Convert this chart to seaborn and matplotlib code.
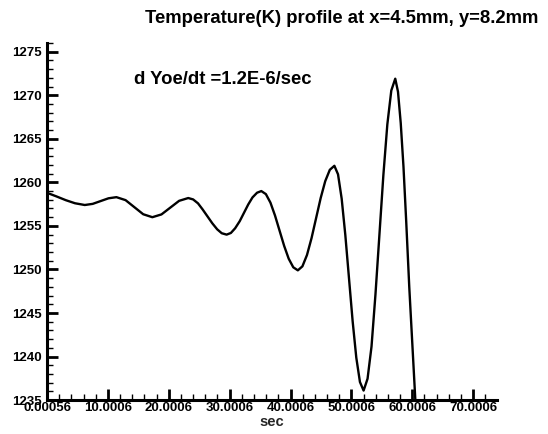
import matplotlib
matplotlib.use("Agg")
import matplotlib.pyplot as plt
from matplotlib.ticker import MultipleLocator
import pandas as pd
import seaborn as sns

# Time (sec axis units) and temperature (K) samples along the curve
time = [
    0.0, 1.5, 3.1, 4.6, 6.2,
    7.5, 8.8, 10.1, 11.4,
    12.9, 14.35, 15.8, 17.3,
    18.8, 20.25, 21.7, 23.2,
    24.0, 24.8, 25.55, 26.35, 27.15, 27.95, 28.7, 29.5,
    30.2, 30.9, 31.65, 32.35, 33.05, 33.75, 34.5, 35.2,
    35.95, 36.7, 37.45, 38.2, 38.95, 39.7, 40.45, 41.2,
    41.95, 42.7, 43.45, 44.2, 44.95, 45.7, 46.45, 47.2,
    47.8, 48.4, 49.0, 49.6, 50.2, 50.8, 51.4, 52.0,
    52.65, 53.3, 53.95, 54.6, 55.25, 55.9, 56.55, 57.2,
    57.65, 58.1, 58.55, 59.0, 59.5, 60.0, 60.5,
]
temperature = [
    1258.8, 1258.4, 1257.95, 1257.6, 1257.4,
    1257.53, 1257.85, 1258.17, 1258.3,
    1257.96, 1257.15, 1256.34, 1256.0,
    1256.32, 1257.1, 1257.88, 1258.2,
    1258.04, 1257.59, 1256.9, 1256.1, 1255.3, 1254.61, 1254.16, 1254.0,
    1254.19, 1254.73, 1255.54, 1256.5, 1257.46, 1258.27, 1258.81, 1259.0,
    1258.65, 1257.67, 1256.19, 1254.45, 1252.71, 1251.23, 1250.25, 1249.9,
    1250.36, 1251.66, 1253.6, 1255.9, 1258.2, 1260.14, 1261.44, 1261.9,
    1260.92, 1258.12, 1253.94, 1249.0, 1244.06, 1239.88, 1237.08, 1236.1,
    1237.46, 1241.15, 1247.15, 1254.0, 1260.85, 1266.66, 1270.54, 1271.9,
    1270.4, 1266.8, 1261.8, 1255.5, 1248.0, 1241.5, 1235.0,
]

x_tick_values = [0.00056, 10.0006, 20.0006, 30.0006, 40.0006, 50.0006, 60.0006, 70.0006]
x_tick_labels = ["0.00056", "10.0006", "20.0006", "30.0006", "40.0006",
                 "50.0006", "60.0006", "70.0006"]
y_tick_values = [1235, 1240, 1245, 1250, 1255, 1260, 1265, 1270, 1275]

title_text = "Temperature(K) profile at x=4.5mm, y=8.2mm"
note_text = "d Yoe/dt =1.2E-6/sec"
x_label = "sec"

sns.set_theme(style="white")
plt.rcParams["font.family"] = ["Liberation Sans", "DejaVu Sans"]
plt.rcParams["font.weight"] = "bold"

df = pd.DataFrame({"t": time, "T": temperature})

fig = plt.figure(figsize=(5.48, 4.34), dpi=100)
ax = fig.add_axes([0.0858, 0.078, 0.821, 0.823])

sns.lineplot(data=df, x="t", y="T", ax=ax, color="black", linewidth=1.7,
             estimator=None, sort=False)

ax.set_xlim(0, 73.9)
ax.set_ylim(1235, 1276)

for side in ("top", "right"):
    ax.spines[side].set_visible(False)
for side in ("left", "bottom"):
    ax.spines[side].set_color("black")
    ax.spines[side].set_linewidth(2.2)

ax.set_xticks(x_tick_values)
ax.set_xticklabels(x_tick_labels)
ax.xaxis.set_minor_locator(MultipleLocator(2))
ax.set_yticks(y_tick_values)
ax.set_yticklabels([str(v) for v in y_tick_values])
ax.yaxis.set_minor_locator(MultipleLocator(1))

ax.tick_params(axis="both", which="major", direction="in", length=8, width=2,
               color="black", labelsize=9.5, labelcolor="black")
ax.tick_params(axis="both", which="minor", direction="in", length=4, width=1,
               color="black")
ax.tick_params(axis="x", which="major", pad=1)
ax.tick_params(axis="y", which="major", pad=4)
ax.tick_params(bottom=True, left=True, which="both")
for lab in ax.get_xticklabels() + ax.get_yticklabels():
    lab.set_fontweight("bold")

ax.set_xlabel(x_label, fontsize=10.5, fontweight="bold", labelpad=1)
ax.set_ylabel("")

fig.text(0.623, 0.958, title_text, ha="center", va="center",
         fontsize=13.3, fontweight="bold", color="black")
ax.text(0.193, 0.899, note_text, transform=ax.transAxes, ha="left", va="center",
        fontsize=13.3, fontweight="bold", color="black")

fig.savefig("out.png", dpi=100, facecolor="white")
